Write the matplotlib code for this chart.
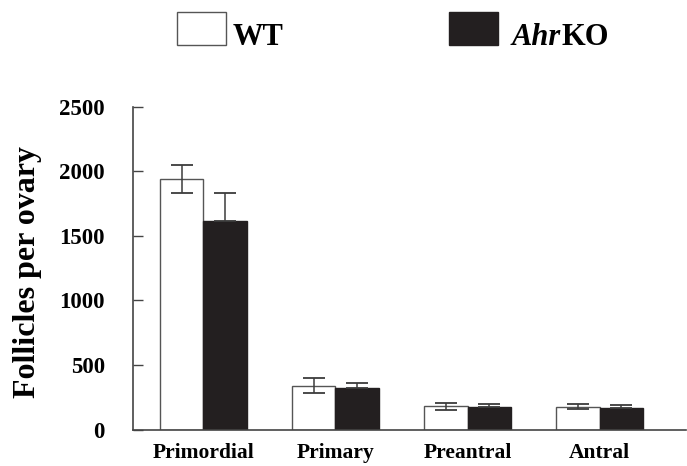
import matplotlib
matplotlib.use("Agg")
import matplotlib.pyplot as plt
import numpy as np
from matplotlib.patches import Rectangle

categories = ["Primordial", "Primary", "Preantral", "Antral"]
wt_values = [1940, 340, 180, 178]
wt_err = [105, 57, 26, 20]
ko_values = [1617, 322, 172, 168]
ko_err = [215, 40, 26, 25]
yticks = [0, 500, 1000, 1500, 2000, 2500]

plt.rcParams['font.family'] = ['Liberation Serif', 'DejaVu Serif']
plt.rcParams['font.weight'] = 'bold'

W, H = 687, 466
fig = plt.figure(figsize=(W / 100, H / 100), dpi=100)
ax = fig.add_axes([132.7 / W, 1 - 429.5 / H, (686 - 132.7) / W, (429.5 - 106.7) / H])

x = np.arange(len(categories))
bw = 0.326
axis_col = '#444444'
err_col = '#3c3c3c'

ax.bar(x - bw / 2, wt_values, width=bw, color='white', edgecolor='#555555', linewidth=1.0, zorder=2)
ax.bar(x + bw / 2, ko_values, width=bw, color='#231f20', edgecolor='#231f20', linewidth=1.0, zorder=2)
ax.errorbar(x - bw / 2, wt_values, yerr=wt_err, fmt='none', ecolor=err_col, elinewidth=1.1,
            capsize=7.8, capthick=1.3, zorder=3)
ax.errorbar(x + bw / 2, ko_values, yerr=[np.zeros(len(ko_err)), ko_err], fmt='none', ecolor=err_col,
            elinewidth=1.1, capsize=7.8, capthick=1.3, zorder=3)

ax.set_xlim(-0.536, 3.655)
ax.set_ylim(0, 2500)
ax.set_yticks(yticks)
ax.set_yticklabels([str(v) for v in yticks], fontsize=16.5, fontweight='bold')
ax.set_xticks(x)
ax.set_xticklabels(categories, fontsize=15.5, fontweight='bold')
ax.tick_params(axis='y', direction='in', length=7, width=1.0, color=axis_col, pad=20)
ax.tick_params(axis='x', length=0, pad=10)
for s in ['top', 'right']:
    ax.spines[s].set_visible(False)
for s in ['left', 'bottom']:
    ax.spines[s].set_color(axis_col)
    ax.spines[s].set_linewidth(1.2)

fig.text(28 / W, 1 - 271.5 / H, "Follicles per ovary", rotation=90, ha='center', va='center',
         fontsize=23, fontweight='bold')

# Legend
fig.patches.append(Rectangle((177 / W, 1 - 45 / H), 49 / W, 33 / H, transform=fig.transFigure,
                             facecolor='white', edgecolor='#555555', linewidth=1.0))
fig.patches.append(Rectangle((449 / W, 1 - 45 / H), 49 / W, 33 / H, transform=fig.transFigure,
                             facecolor='#231f20', edgecolor='#231f20', linewidth=1.0))
fig.text(233 / W, 1 - 45 / H, "WT", ha='left', va='baseline', fontsize=22, fontweight='bold')
t1 = fig.text(512 / W, 1 - 45 / H, "Ahr", ha='left', va='baseline', fontsize=22, fontweight='bold',
              fontstyle='italic')
fig.canvas.draw()
bb = t1.get_window_extent()
fig.text(bb.x1 / W, 1 - 45 / H, "KO", ha='left', va='baseline', fontsize=22, fontweight='bold')

fig.savefig("out.png", dpi=100)
